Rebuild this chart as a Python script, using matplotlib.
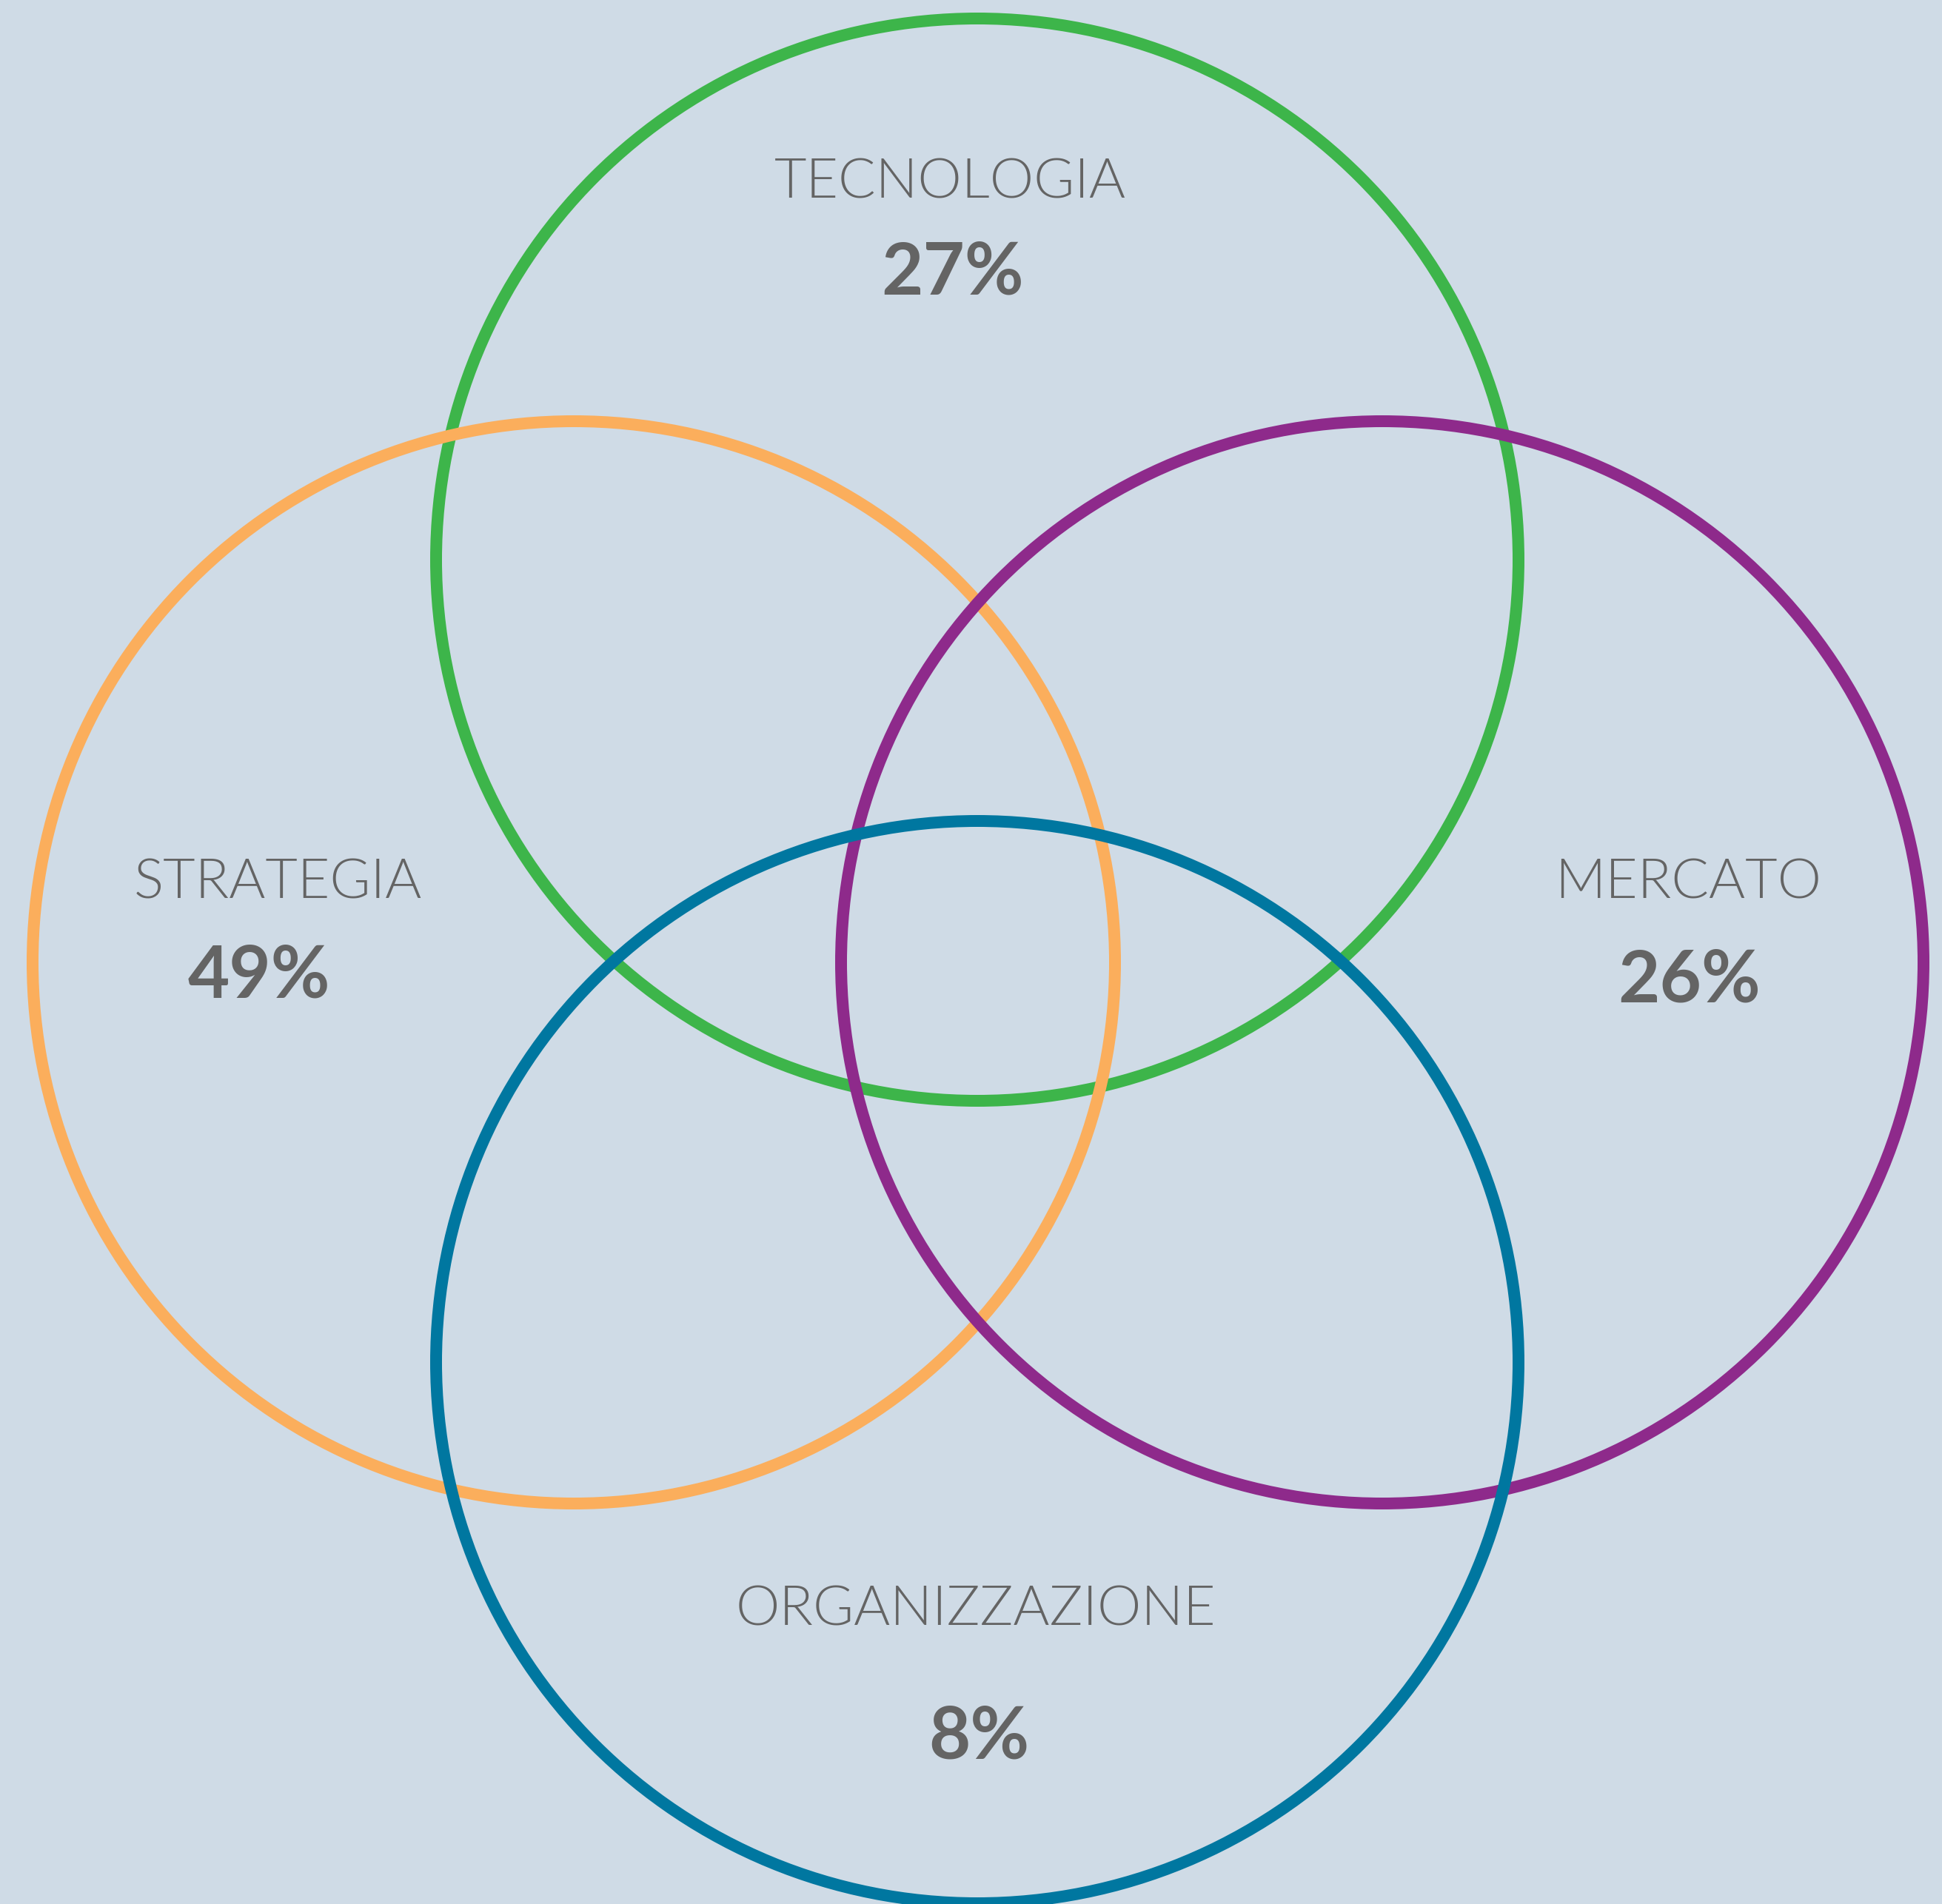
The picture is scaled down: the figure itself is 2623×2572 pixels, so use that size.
import matplotlib
matplotlib.use("Agg")
import matplotlib.pyplot as plt
from matplotlib.patches import Circle
from matplotlib import font_manager as fm

# Data
categories = ["TECNOLOGIA", "STRATEGIA", "MERCATO", "ORGANIZZAZIONE"]
values = [27, 49, 26, 8]

# Layout / style
W, H = 2623, 2572
centers = [(1320, 756), (775, 1300), (1867, 1300), (1320, 1840)]
radius = 731
colors = ["#3DB54A", "#FBAE5C", "#8E2A8B", "#0077A0"]
label_pos = [(1283, 268), (375, 1213), (2280, 1213), (1318, 2196)]
value_pos = [(1287, 398), (350, 1347), (2282, 1353), (1322, 2375)]
bg = "#CFDBE6"
txt = "#646464"

# Find a light (300) Lato face if available
light_fp = None
for f in fm.fontManager.ttflist:
    if f.name == "Lato" and (f.weight == 300 or str(f.weight).lower() == "light") \
            and f.style == "normal":
        light_fp = fm.FontProperties(fname=f.fname, size=54)
        break
if light_fp is None:
    light_fp = fm.FontProperties(family="Lato", weight="normal", size=54)
bold_fp = fm.FontProperties(family="Lato", weight="bold", size=70)

fig = plt.figure(figsize=(W / 100, H / 100), dpi=100)
fig.patch.set_facecolor(bg)
ax = fig.add_axes([0, 0, 1, 1])
ax.set_facecolor(bg)
ax.set_xlim(0, W)
ax.set_ylim(H, 0)
ax.set_aspect("equal")
ax.axis("off")

for (cx, cy), c in zip(centers, colors):
    ax.add_patch(Circle((cx, cy), radius, fill=False, edgecolor=c, linewidth=11.5))

for cat, val, (lx, ly), (vx, vy) in zip(categories, values, label_pos, value_pos):
    ax.text(lx, ly, cat, ha="center", va="baseline", fontproperties=light_fp, color=txt)
    ax.text(vx, vy, f"{val}%", ha="center", va="baseline", fontproperties=bold_fp, color=txt)

fig.savefig("out.png", dpi=100, facecolor=bg)
